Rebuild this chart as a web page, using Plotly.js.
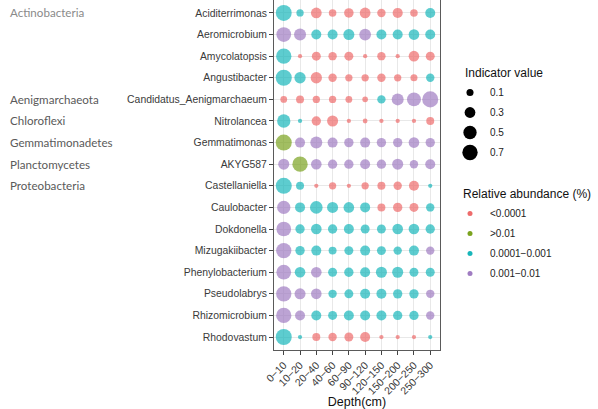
<!DOCTYPE html>
<html>
<head>
<meta charset="utf-8">
<script src="https://cdn.plot.ly/plotly-3.0.1.min.js"></script>
<style>
  html, body { margin: 0; padding: 0; background: #fff; }
  #chart { width: 598px; height: 409px; }
</style>
</head>
<body>
<div id="chart"></div>
<script>
// Soil depth intervals (x categories)
const depths = ["0\u221210", "10\u221220", "20\u221240", "40\u221260", "60\u221290", "90\u2212120",
                "120\u2212150", "150\u2212200", "200\u2212250", "250\u2212300"];

// Indicator genera (y categories, top to bottom)
const genera = ["Aciditerrimonas", "Aeromicrobium", "Amycolatopsis", "Angustibacter",
                "Candidatus_Aenigmarchaeum", "Nitrolancea", "Gemmatimonas", "AKYG587",
                "Castellaniella", "Caulobacter", "Dokdonella", "Mizugakiibacter",
                "Phenylobacterium", "Pseudolabrys", "Rhizomicrobium", "Rhodovastum"];

// Phylum labels and the genus row each one starts at
const phyla = ["Actinobacteria", "Aenigmarchaeota", "Chloroflexi", "Gemmatimonadetes",
               "Planctomycetes", "Proteobacteria"];
const phylumFirstGenus = ["Aciditerrimonas", "Candidatus_Aenigmarchaeum", "Nitrolancea",
                          "Gemmatimonas", "AKYG587", "Castellaniella"];

// Relative abundance classes (legend order)
const abundanceClasses = ["<0.0001", ">0.01", "0.0001\u22120.001", "0.001\u22120.01"];

// Indicator value per genus (rows) and depth (columns)
const indicatorValue = [
  [0.75, 0.11, 0.30, 0.12, 0.22, 0.30, 0.16, 0.26, 0.12, 0.25],
  [0.63, 0.39, 0.25, 0.25, 0.32, 0.37, 0.25, 0.25, 0.29, 0.25],
  [0.69, 0.02, 0.19, 0.16, 0.19, 0.02, 0.16, 0.02, 0.29, 0.19],
  [0.77, 0.34, 0.34, 0.16, 0.11, 0.11, 0.16, 0.11, 0.10, 0.16],
  [0.09, 0.14, 0.11, 0.11, 0.09, 0.05, 0.16, 0.39, 0.56, 0.77],
  [0.50, 0.02, 0.21, 0.32, 0.02, 0.03, 0.02, 0.02, 0.02, 0.14],
  [0.77, 0.25, 0.39, 0.25, 0.21, 0.25, 0.21, 0.21, 0.29, 0.21],
  [0.32, 0.69, 0.29, 0.21, 0.21, 0.25, 0.21, 0.32, 0.16, 0.25],
  [0.77, 0.14, 0.02, 0.11, 0.02, 0.11, 0.14, 0.16, 0.25, 0.02],
  [0.50, 0.25, 0.44, 0.32, 0.29, 0.25, 0.14, 0.21, 0.19, 0.16],
  [0.63, 0.21, 0.29, 0.21, 0.25, 0.19, 0.19, 0.29, 0.29, 0.21],
  [0.69, 0.21, 0.25, 0.14, 0.19, 0.25, 0.19, 0.16, 0.25, 0.16],
  [0.63, 0.29, 0.29, 0.19, 0.21, 0.25, 0.32, 0.32, 0.19, 0.19],
  [0.69, 0.32, 0.29, 0.16, 0.19, 0.25, 0.25, 0.21, 0.21, 0.16],
  [0.69, 0.25, 0.25, 0.19, 0.25, 0.25, 0.25, 0.21, 0.21, 0.16],
  [0.77, 0.02, 0.14, 0.16, 0.19, 0.25, 0.02, 0.02, 0.02, 0.02]
];

// Abundance class index (into abundanceClasses) per genus and depth
const abundanceClass = [
  [2, 2, 0, 0, 0, 0, 0, 0, 0, 2],
  [3, 3, 2, 2, 2, 3, 2, 2, 2, 2],
  [2, 0, 0, 0, 0, 0, 0, 0, 0, 0],
  [2, 2, 0, 0, 0, 0, 0, 0, 0, 2],
  [0, 0, 0, 0, 0, 0, 2, 3, 3, 3],
  [2, 2, 0, 0, 0, 0, 0, 0, 0, 0],
  [1, 3, 3, 3, 3, 3, 3, 3, 3, 3],
  [3, 1, 3, 3, 3, 3, 3, 3, 3, 3],
  [2, 2, 0, 0, 0, 0, 0, 0, 0, 2],
  [3, 2, 2, 2, 2, 2, 0, 0, 0, 2],
  [3, 2, 2, 2, 2, 2, 2, 2, 2, 2],
  [3, 2, 2, 2, 2, 2, 2, 2, 2, 3],
  [3, 2, 3, 2, 2, 2, 2, 2, 2, 2],
  [3, 3, 3, 2, 2, 2, 2, 2, 2, 3],
  [3, 3, 2, 2, 2, 2, 2, 2, 2, 3],
  [2, 2, 0, 0, 0, 0, 0, 0, 0, 2]
];

// Size legend breaks
const sizeBreaks = [0.1, 0.3, 0.5, 0.7];

const classColors = ["#EE6B6B", "#7BA31F", "#18B6BA", "#A07CC2"];
const FONT = "Liberation Sans, Arial, sans-serif";

// indicator value -> marker diameter in px (area-like scaling)
function diameter(v) { return 2 + 16 * Math.sqrt(v); }

const traces = [];

// One trace per abundance class for the bubble grid
abundanceClasses.forEach(function (cls, k) {
  const xs = [], ys = [], ss = [];
  genera.forEach(function (g, i) {
    depths.forEach(function (d, j) {
      if (abundanceClass[i][j] === k) {
        xs.push(d); ys.push(g); ss.push(diameter(indicatorValue[i][j]));
      }
    });
  });
  traces.push({
    type: "scatter", mode: "markers", x: xs, y: ys,
    marker: { size: ss, color: classColors[k], line: { width: 0 } },
    showlegend: false, hoverinfo: "x+y"
  });
});

// Legend keys: indicator value (size)
sizeBreaks.forEach(function (v) {
  traces.push({
    type: "scatter", mode: "markers", x: [null], y: [null],
    name: String(v), legend: "legend", legendgroup: "s" + v,
    marker: { size: diameter(v), color: "#000" }
  });
});

// Legend keys: relative abundance (colour)
abundanceClasses.forEach(function (cls, k) {
  traces.push({
    type: "scatter", mode: "markers", x: [null], y: [null],
    name: cls, legend: "legend2", legendgroup: "c" + k,
    marker: { size: 5, color: classColors[k] }
  });
});

// Phylum labels to the far left of the genus names
const annotations = phyla.map(function (p, i) {
  return {
    text: p, xref: "paper", x: (8 - 274) / 166, xanchor: "left",
    yref: "y", y: genera.indexOf(phylumFirstGenus[i]), yanchor: "middle",
    showarrow: false,
    font: { family: "Lato, Open Sans, sans-serif", size: 11.6,
            color: i === 0 ? "#8a8a8a" : "#5a5a5a" }
  };
});

// Legend headings
const titleFont = { family: FONT, size: 12, color: "#111" };
annotations.push({
  text: "Indicator value", xref: "paper", yref: "paper",
  x: (463 - 274) / 166, y: 1 - 73 / 350, xanchor: "left", yanchor: "middle",
  showarrow: false, font: titleFont
});
annotations.push({
  text: "Relative abundance (%)", xref: "paper", yref: "paper",
  x: (461 - 274) / 166, y: 1 - 194 / 350, xanchor: "left", yanchor: "middle",
  showarrow: false, font: titleFont
});

const legendCommon = {
  xref: "container", yref: "container", xanchor: "left", yanchor: "top",
  bgcolor: "rgba(0,0,0,0)", borderwidth: 0,
  font: { family: FONT, size: 10, color: "#222" },
  tracegroupgap: 1, itemclick: false, itemdoubleclick: false
};

const layout = {
  width: 598, height: 409,
  margin: { l: 274, r: 158, t: 0, b: 59, pad: 0 },
  paper_bgcolor: "#fff", plot_bgcolor: "#fff",
  font: { family: FONT, size: 10, color: "#333" },
  xaxis: {
    type: "category", categoryorder: "array", categoryarray: depths,
    range: [-0.6, depths.length - 0.4],
    showgrid: true, gridcolor: "#e8e8e8", gridwidth: 1,
    showline: true, mirror: true, linecolor: "#5a5a5a", linewidth: 1,
    ticks: "outside", ticklen: 4, tickcolor: "#444", tickwidth: 1,
    tickangle: -45, tickfont: { family: FONT, size: 10.5, color: "#3a3a3a" },
    zeroline: false, fixedrange: true,
    title: { text: "Depth(cm)", font: { family: FONT, size: 12.5, color: "#111" }, standoff: 3 }
  },
  yaxis: {
    type: "category", categoryorder: "array", categoryarray: genera,
    range: [genera.length - 0.4, -0.6],
    showgrid: true, gridcolor: "#e8e8e8", gridwidth: 1,
    showline: true, mirror: true, linecolor: "#5a5a5a", linewidth: 1,
    ticks: "outside", ticklen: 4, tickcolor: "#444", tickwidth: 1,
    tickfont: { family: FONT, size: 10.4, color: "#3a3a3a" },
    zeroline: false, fixedrange: true
  },
  legend: Object.assign({}, legendCommon, { x: 450 / 598, y: 1 - 78 / 409 }),
  legend2: Object.assign({}, legendCommon, { x: 450 / 598, y: 1 - 199 / 409 }),
  annotations: annotations,
  showlegend: true
};

Plotly.newPlot("chart", traces, layout, { displayModeBar: false, staticPlot: true });
</script>
</body>
</html>
